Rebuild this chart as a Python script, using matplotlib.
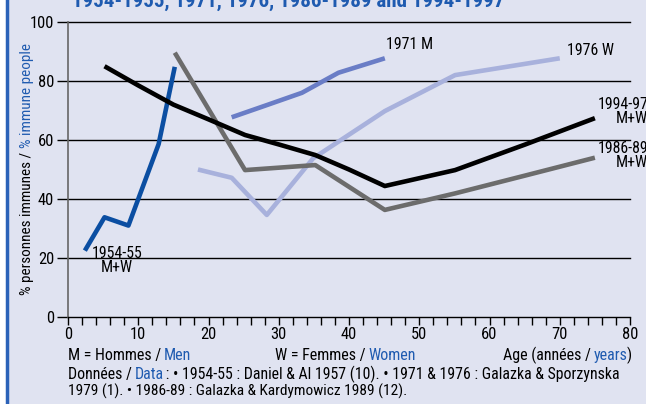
import matplotlib
matplotlib.use("Agg")
import matplotlib.pyplot as plt
from matplotlib import font_manager as fm
from matplotlib.ticker import MultipleLocator

# pick a narrow sans if one is installed (the reference uses a condensed face)
names = {(f.name, str(f.stretch)) for f in fm.fontManager.ttflist}
plain = {n for n, s in names}
if 'Liberation Sans Narrow' in plain:
    plt.rcParams['font.family'] = ['Liberation Sans Narrow', 'DejaVu Sans']
elif 'Roboto Condensed' in plain:
    plt.rcParams['font.family'] = ['Roboto Condensed', 'DejaVu Sans']
elif ('DejaVu Sans', 'condensed') in names:
    plt.rcParams['font.family'] = ['DejaVu Sans']
    plt.rcParams['font.stretch'] = 'condensed'
else:
    plt.rcParams['font.family'] = ['Liberation Sans', 'DejaVu Sans']

# data (age in years, % immune)
age_1954 = [2.4, 5.2, 8.6, 12.9, 15.2]
imm_1954 = [22.5, 33.8, 31.0, 58.6, 84.8]

age_1971 = [23.3, 28.5, 33.3, 38.5, 45.1]
imm_1971 = [67.7, 72.0, 76.0, 82.8, 87.7]

age_1976 = [18.5, 23.3, 28.3, 34.9, 45.1, 55.1, 70.0]
imm_1976 = [50.0, 47.2, 34.6, 53.8, 69.8, 82.0, 87.7]

age_1986 = [15.2, 25.2, 35.2, 45.1, 55.1, 65.0, 75.0]
imm_1986 = [89.6, 49.8, 51.5, 36.3, 41.9, 47.9, 54.0]

age_1994 = [5.2, 10.0, 15.0, 20.0, 25.2, 30.0, 35.2, 40.0, 45.1, 55.1, 65.0, 75.0]
imm_1994 = [85.0, 78.5, 72.0, 67.0, 61.7, 58.5, 54.9, 50.0, 44.4, 49.8, 58.4, 67.4]

BG = '#E0E3F1'
BLUE_TXT = '#1F5BB0'
colours = {'1954': '#0B4EA2', '1971': '#6A7DC6', '1976': '#A8B1DC',
           '1986': '#6C6C6C', '1994': '#000000'}

W, H = 646, 404
fig = plt.figure(figsize=(6.46, 4.04), dpi=100, facecolor=BG)
ax = fig.add_axes([68 / W, 87 / H, 562 / W, 295 / H])
ax.set_facecolor(BG)

# left blue border of the panel
fig.add_artist(plt.Line2D([0.0105, 0.0105], [0, 1], transform=fig.transFigure,
                          color='#2B62B8', lw=2.5))
fig.add_artist(plt.Rectangle((0, 0), 0.009, 1, transform=fig.transFigure,
                             color='white', lw=0))

for y in [20, 40, 60, 80, 100]:
    ax.plot([0, 80], [y, y], color='black', lw=1.0, zorder=1, clip_on=False)

lw = 3.3
ax.plot(age_1954, imm_1954, color=colours['1954'], lw=lw, zorder=3, solid_capstyle='butt')
ax.plot(age_1971, imm_1971, color=colours['1971'], lw=lw, zorder=3, solid_capstyle='butt')
ax.plot(age_1976, imm_1976, color=colours['1976'], lw=lw, zorder=2, solid_capstyle='butt')
ax.plot(age_1986, imm_1986, color=colours['1986'], lw=lw, zorder=3, solid_capstyle='butt')
ax.plot(age_1994, imm_1994, color=colours['1994'], lw=lw, zorder=4, solid_capstyle='butt')

ax.set_xlim(0, 80)
ax.set_ylim(0, 100)
ax.xaxis.set_major_locator(MultipleLocator(10))
ax.xaxis.set_minor_locator(MultipleLocator(2))
ax.yaxis.set_major_locator(MultipleLocator(20))
for s in ['top', 'right']:
    ax.spines[s].set_visible(False)
ax.spines['left'].set_color('#666666')
ax.spines['left'].set_linewidth(1.2)
ax.spines['bottom'].set_color('black')
ax.spines['bottom'].set_linewidth(1.0)

fig.canvas.draw()
r = fig.canvas.get_renderer()


def size_for(txt, target_px, **kw):
    probe = fig.text(0, 0, txt, fontsize=10, **kw)
    w = probe.get_window_extent(r).width
    probe.remove()
    return 10 * target_px / w


tick_fs = size_for('100', 24)
ax.tick_params(axis='x', which='both', direction='out', length=6, width=1.0, labelsize=tick_fs, pad=1)
ax.tick_params(axis='y', direction='out', length=8, width=1.0, labelsize=tick_fs, pad=2, color='black')

# series labels
lab_fs = size_for('1971 M', 47)
tk = dict(fontsize=lab_fs, color='black', linespacing=0.92)
ax.text(7.0, 19.3, '1954-55\nM+W', ha='center', va='center', **tk)
ax.text((386 - 68) / 7.025, 92.5, '1971 M', ha='left', va='center', **tk)
ax.text((567 - 68) / 7.025, 90.5, '1976 W', ha='left', va='center', **tk)
ax.text(82.6, 69.8, '1994-97\nM+W', ha='right', va='center', clip_on=False, **tk)
ax.text(82.6, 54.6, '1986-89\nM+W', ha='right', va='center', clip_on=False, **tk)


def chain(x, y, parts, rotation=0):
    # coloured pieces of one line, each placed right after the previous one
    arts = []
    for txt, col in parts:
        if not arts:
            a = fig.text(x, y, txt, color=col, fontsize=10, rotation=rotation,
                         ha='left', va='bottom' if rotation else 'baseline')
        elif rotation:
            a = ax.annotate(txt, xy=(0, 1), xycoords=arts[-1], color=col, fontsize=10,
                            rotation=90, ha='left', va='bottom', annotation_clip=False)
        else:
            a = ax.annotate(txt, xy=(1, y), xycoords=(arts[-1], 'figure fraction'), color=col,
                            fontsize=10, ha='left', va='baseline', annotation_clip=False,
                            xytext=(-0.8, 0), textcoords='offset points')
        arts.append(a)
    return arts


def fit(arts, target, vertical=False):
    fig.canvas.draw()
    bbs = [a.get_window_extent(r) for a in arts]
    if vertical:
        size = max(b.y1 for b in bbs) - min(b.y0 for b in bbs)
    else:
        size = max(b.x1 for b in bbs) - min(b.x0 for b in bbs)
    for a in arts:
        a.set_fontsize(a.get_fontsize() * target / size)


ylab = chain(0.031, (404 - 295) / H, [('% personnes immunes / ', 'black'), ('% immune people', BLUE_TXT)], rotation=90)
fit(ylab, 250, vertical=True)

row1 = 0.108
g_men = chain(68 / W, row1, [('M = Hommes / ', 'black'), ('Men', BLUE_TXT)])
fit(g_men, 123)
g_women = chain(275 / W, row1, [('W = Femmes / ', 'black'), ('Women', BLUE_TXT)])
fit(g_women, 140)
g_age = chain(503 / W, row1, [('Age (années / ', 'black'), ('years', BLUE_TXT), (')', 'black')])
fit(g_age, 127)
g_src = chain(68 / W, 0.062, [('Données / ', 'black'), ('Data', BLUE_TXT),
                              (' : • 1954-55 : Daniel & Al 1957 (10). • 1971 & 1976 : Galazka & Sporzynska', 'black')])
fit(g_src, 549)
src2 = fig.text(68 / W, 0.021, '1979 (1). • 1986-89 : Galazka & Kardymowicz 1989 (12).', color='black',
                fontsize=10, ha='left', va='baseline')
fit([src2], 338)

# title, cut off by the top edge as in the reference
title = fig.text(72 / W, 0.983, '1954-1955, 1971, 1976, 1986-1989 and 1994-1997', color=BLUE_TXT,
                 fontsize=10, fontweight='bold', ha='left', va='baseline')
fit([title], 435)

fig.savefig('out.png', dpi=100, facecolor=BG)
